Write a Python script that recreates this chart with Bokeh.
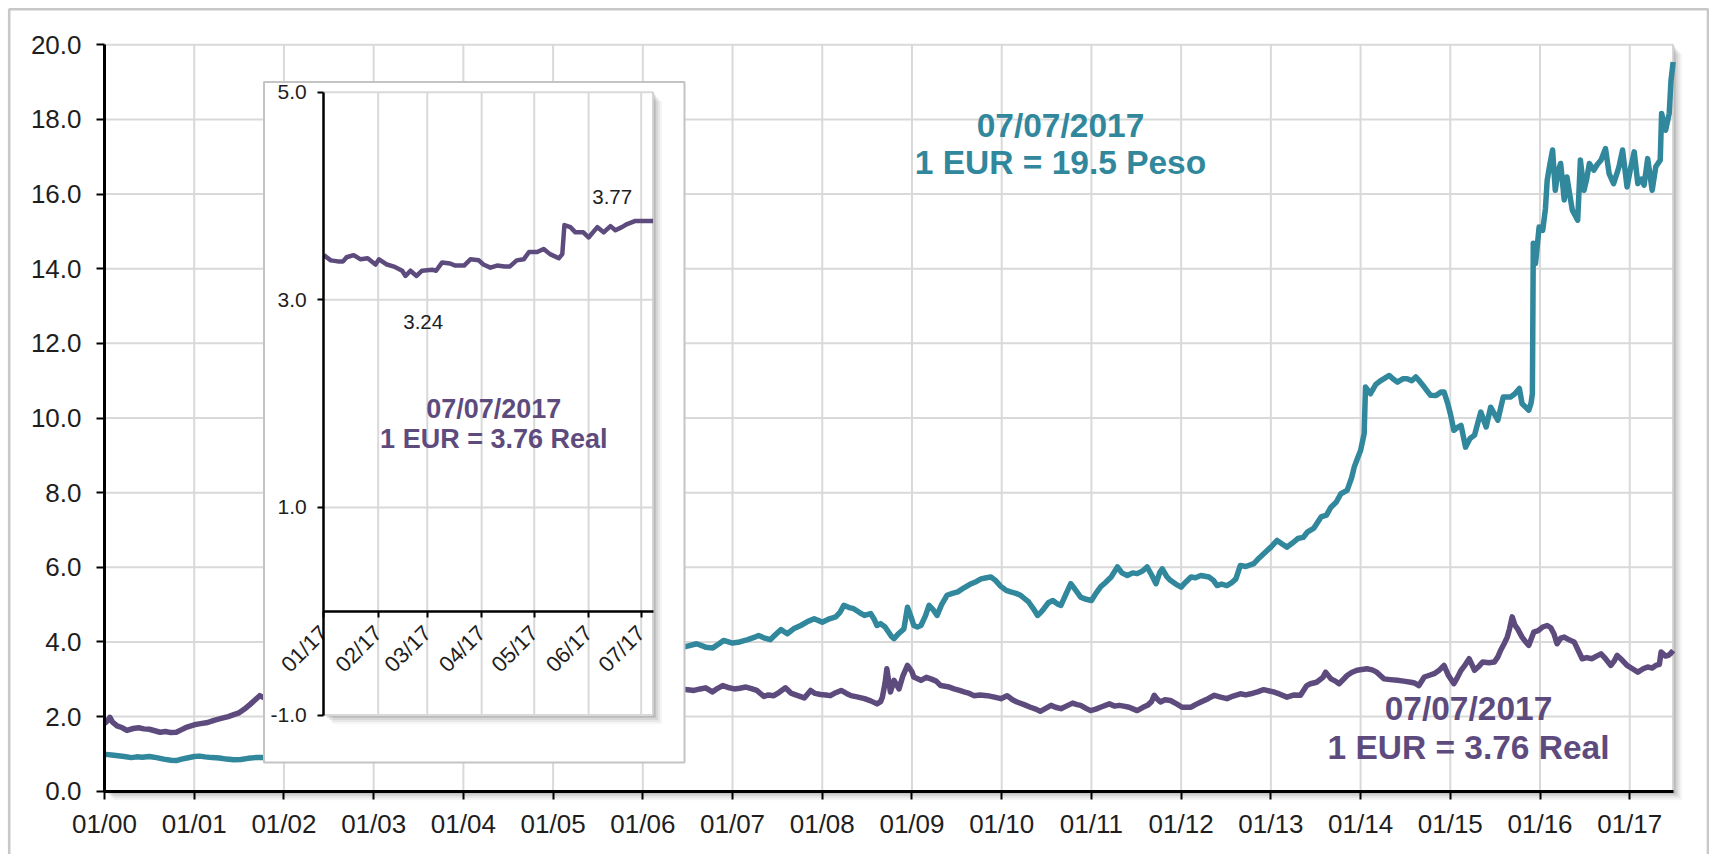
import math
from bokeh.plotting import figure
from bokeh.models import Range1d, LinearAxis, FixedTicker, NumeralTickFormatter, Label
from bokeh.embed import file_html
from bokeh.resources import INLINE

# ---------------- data ----------------
peso_t = [2000.00, 2000.04, 2000.08, 2000.15, 2000.22, 2000.30, 2000.36, 2000.42, 2000.50, 2000.58,
          2000.66, 2000.74, 2000.80, 2000.86, 2000.92, 2001.00, 2001.06, 2001.12, 2001.20, 2001.28,
          2001.36, 2001.44, 2001.52, 2001.60, 2001.68, 2001.76, 2001.84, 2001.92, 2002.00, 2002.04,
          2002.10, 2002.18, 2002.26, 2002.34, 2002.42, 2002.50, 2002.60, 2002.70, 2002.80, 2002.90,
          2003.00, 2003.15, 2003.30, 2003.45, 2003.60, 2003.75, 2003.90, 2004.05, 2004.20, 2004.35,
          2004.50, 2004.65, 2004.80, 2004.95, 2005.10, 2005.25, 2005.40, 2005.55, 2005.70, 2005.85,
          2006.00, 2006.15, 2006.30, 2006.42, 2006.52, 2006.60, 2006.70, 2006.78, 2006.85, 2006.90,
          2007.00, 2007.08, 2007.17, 2007.24, 2007.29, 2007.36, 2007.42, 2007.48, 2007.54, 2007.61,
          2007.68, 2007.76, 2007.84, 2007.91, 2008.00, 2008.08, 2008.15, 2008.20, 2008.24, 2008.30,
          2008.35, 2008.42, 2008.47, 2008.54, 2008.58, 2008.61, 2008.65, 2008.70, 2008.74, 2008.77,
          2008.80, 2008.85, 2008.91, 2008.95, 2008.99, 2009.02, 2009.06, 2009.10, 2009.15, 2009.19,
          2009.24, 2009.28, 2009.33, 2009.39, 2009.45, 2009.51, 2009.58, 2009.66, 2009.72, 2009.77,
          2009.83, 2009.88, 2009.93, 2009.99, 2010.05, 2010.10, 2010.16, 2010.21, 2010.26, 2010.30,
          2010.35, 2010.40, 2010.44, 2010.47, 2010.52, 2010.57, 2010.62, 2010.66, 2010.72, 2010.77,
          2010.82, 2010.88, 2010.93, 2011.00, 2011.05, 2011.10, 2011.16, 2011.22, 2011.29, 2011.34,
          2011.40, 2011.46, 2011.51, 2011.57, 2011.62, 2011.67, 2011.72, 2011.76, 2011.79, 2011.84,
          2011.88, 2011.94, 2012.00, 2012.05, 2012.11, 2012.16, 2012.22, 2012.31, 2012.36, 2012.40,
          2012.45, 2012.51, 2012.56, 2012.61, 2012.66, 2012.72, 2012.81, 2012.87, 2012.92, 2013.00,
          2013.07, 2013.13, 2013.18, 2013.24, 2013.30, 2013.36, 2013.41, 2013.48, 2013.56, 2013.62,
          2013.67, 2013.73, 2013.78, 2013.85, 2013.90, 2013.93, 2013.97, 2014.00, 2014.04, 2014.055,
          2014.11, 2014.17, 2014.23, 2014.32, 2014.36, 2014.41, 2014.47, 2014.52, 2014.57, 2014.615,
          2014.66, 2014.71, 2014.75, 2014.78, 2014.84, 2014.90, 2014.93, 2014.97, 2015.00, 2015.04,
          2015.08, 2015.12, 2015.17, 2015.22, 2015.27, 2015.31, 2015.34, 2015.40, 2015.45, 2015.53,
          2015.59, 2015.67, 2015.72, 2015.77, 2015.80, 2015.875, 2015.90, 2015.915, 2015.925, 2015.95,
          2015.99, 2016.03, 2016.06, 2016.08, 2016.11, 2016.14, 2016.17, 2016.20, 2016.23, 2016.27,
          2016.30, 2016.33, 2016.36, 2016.42, 2016.45, 2016.49, 2016.52, 2016.55, 2016.60, 2016.64,
          2016.68, 2016.73, 2016.77, 2016.82, 2016.85, 2016.88, 2016.92, 2016.97, 2017.01, 2017.05,
          2017.09, 2017.13, 2017.16, 2017.20, 2017.25, 2017.29, 2017.34, 2017.355, 2017.40, 2017.44,
          2017.46, 2017.484]
peso_v = [0.99, 0.98, 0.97, 0.95, 0.93, 0.90, 0.92, 0.91, 0.93, 0.90,
          0.86, 0.83, 0.82, 0.86, 0.89, 0.93, 0.94, 0.92, 0.90, 0.89,
          0.86, 0.84, 0.85, 0.88, 0.90, 0.90, 0.88, 0.89, 0.90, 1.30,
          1.80, 2.60, 3.10, 3.30, 3.60, 3.50, 3.60, 3.60, 3.50, 3.40,
          3.50, 3.30, 3.10, 3.30, 3.20, 3.40, 3.60, 3.65, 3.55, 3.50,
          3.60, 3.70, 3.80, 4.00, 3.80, 3.75, 3.60, 3.50, 3.60, 3.55,
          3.60, 3.75, 3.90, 3.84, 3.90, 3.95, 3.86, 3.84, 3.95, 4.04,
          3.97, 4.00, 4.06, 4.12, 4.17, 4.10, 4.06, 4.20, 4.33, 4.22,
          4.35, 4.44, 4.55, 4.62, 4.53, 4.62, 4.67, 4.80, 4.98, 4.92,
          4.89, 4.78, 4.71, 4.76, 4.60, 4.44, 4.49, 4.40, 4.26, 4.15,
          4.09, 4.22, 4.35, 4.93, 4.67, 4.44, 4.40, 4.44, 4.70, 4.98,
          4.85, 4.71, 5.00, 5.25, 5.30, 5.34, 5.45, 5.56, 5.62, 5.69,
          5.72, 5.74, 5.65, 5.49, 5.38, 5.34, 5.30, 5.25, 5.15, 5.07,
          4.90, 4.71, 4.80, 4.89, 5.05, 5.11, 5.02, 4.98, 5.30, 5.56,
          5.40, 5.20, 5.15, 5.11, 5.30, 5.47, 5.60, 5.74, 6.01, 5.85,
          5.78, 5.85, 5.83, 5.90, 6.01, 5.80, 5.56, 5.85, 5.96, 5.75,
          5.65, 5.55, 5.47, 5.60, 5.74, 5.72, 5.78, 5.74, 5.65, 5.51,
          5.55, 5.51, 5.58, 5.69, 6.05, 6.02, 6.10, 6.25, 6.36, 6.54,
          6.72, 6.62, 6.54, 6.65, 6.77, 6.80, 6.95, 7.05, 7.35, 7.40,
          7.61, 7.75, 7.97, 8.06, 8.40, 8.69, 8.95, 9.13, 9.58, 10.83,
          10.65, 10.90, 11.01, 11.14, 11.05, 10.96, 11.05, 11.05, 11.00, 11.10,
          10.98, 10.83, 10.70, 10.61, 10.60, 10.70, 10.70, 10.40, 10.12, 9.67,
          9.75, 9.80, 9.22, 9.45, 9.54, 9.90, 10.16, 9.76, 10.29, 9.94,
          10.56, 10.56, 10.65, 10.79, 10.38, 10.21, 10.40, 10.65, 14.68, 14.14,
          15.12, 15.03, 15.60, 16.37, 16.80, 17.18, 16.10, 16.60, 16.82, 15.84,
          16.46, 16.00, 15.57, 15.30, 16.91, 16.10, 16.40, 16.82, 16.64, 16.80,
          16.91, 17.22, 16.55, 16.28, 16.50, 16.73, 17.18, 16.19, 16.70, 17.13,
          16.28, 16.40, 16.24, 16.95, 16.10, 16.73, 16.91, 18.16, 17.71, 18.16,
          19.05, 19.54]

real_t = [2000.00, 2000.03, 2000.06, 2000.09, 2000.14, 2000.20, 2000.25, 2000.32, 2000.38, 2000.44,
          2000.50, 2000.56, 2000.62, 2000.68, 2000.74, 2000.80, 2000.86, 2000.92, 2001.00, 2001.07,
          2001.15, 2001.22, 2001.30, 2001.38, 2001.44, 2001.50, 2001.56, 2001.62, 2001.68, 2001.73,
          2001.78, 2001.85, 2001.95, 2002.05, 2002.20, 2002.35, 2002.50, 2002.65, 2002.78, 2002.90,
          2003.00, 2003.15, 2003.30, 2003.45, 2003.60, 2003.75, 2003.90, 2004.05, 2004.20, 2004.35,
          2004.50, 2004.65, 2004.80, 2004.95, 2005.10, 2005.25, 2005.40, 2005.55, 2005.70, 2005.85,
          2006.00, 2006.15, 2006.30, 2006.42, 2006.50, 2006.57, 2006.64, 2006.70, 2006.775, 2006.83,
          2006.89, 2006.95, 2007.02, 2007.08, 2007.15, 2007.21, 2007.27, 2007.35, 2007.40, 2007.46,
          2007.52, 2007.59, 2007.65, 2007.72, 2007.80, 2007.87, 2007.92, 2007.98, 2008.04, 2008.09,
          2008.15, 2008.21, 2008.27, 2008.32, 2008.40, 2008.47, 2008.54, 2008.61, 2008.65, 2008.67,
          2008.70, 2008.72, 2008.74, 2008.76, 2008.80, 2008.855, 2008.90, 2008.95, 2009.00, 2009.02,
          2009.10, 2009.16, 2009.21, 2009.27, 2009.32, 2009.40, 2009.47, 2009.53, 2009.58, 2009.64,
          2009.69, 2009.76, 2009.84, 2009.92, 2009.99, 2010.06, 2010.12, 2010.17, 2010.25, 2010.32,
          2010.38, 2010.43, 2010.49, 2010.55, 2010.60, 2010.66, 2010.72, 2010.79, 2010.84, 2010.88,
          2010.94, 2010.99, 2011.05, 2011.10, 2011.20, 2011.26, 2011.31, 2011.36, 2011.42, 2011.47,
          2011.51, 2011.57, 2011.625, 2011.67, 2011.70, 2011.73, 2011.77, 2011.82, 2011.88, 2011.95,
          2012.01, 2012.11, 2012.16, 2012.22, 2012.30, 2012.37, 2012.44, 2012.51, 2012.58, 2012.66,
          2012.72, 2012.775, 2012.85, 2012.92, 2013.03, 2013.10, 2013.18, 2013.26, 2013.33, 2013.40,
          2013.44, 2013.51, 2013.58, 2013.61, 2013.67, 2013.72, 2013.76, 2013.81, 2013.85, 2013.90,
          2013.96, 2014.07, 2014.13, 2014.18, 2014.22, 2014.26, 2014.33, 2014.41, 2014.48, 2014.56,
          2014.60, 2014.65, 2014.71, 2014.76, 2014.82, 2014.88, 2014.93, 2014.98, 2015.04, 2015.08,
          2015.12, 2015.17, 2015.21, 2015.27, 2015.32, 2015.36, 2015.43, 2015.49, 2015.53, 2015.56,
          2015.60, 2015.635, 2015.66, 2015.69, 2015.72, 2015.75, 2015.80, 2015.84, 2015.875, 2015.93,
          2015.98, 2016.03, 2016.08, 2016.12, 2016.155, 2016.19, 2016.23, 2016.27, 2016.33, 2016.38,
          2016.43, 2016.47, 2016.52, 2016.58, 2016.63, 2016.68, 2016.73, 2016.79, 2016.83, 2016.86,
          2016.92, 2016.97, 2017.03, 2017.09, 2017.15, 2017.20, 2017.25, 2017.29, 2017.33, 2017.35,
          2017.40, 2017.43, 2017.46, 2017.484]
real_v = [1.81, 1.88, 1.98, 1.85, 1.75, 1.70, 1.63, 1.68, 1.70, 1.67,
          1.66, 1.62, 1.58, 1.60, 1.57, 1.58, 1.65, 1.72, 1.78, 1.81,
          1.84, 1.90, 1.95, 2.00, 2.05, 2.10, 2.20, 2.32, 2.45, 2.56,
          2.50, 2.40, 2.15, 2.05, 2.10, 2.25, 2.80, 3.10, 3.85, 3.60,
          3.60, 3.80, 3.40, 3.30, 3.35, 3.30, 3.65, 3.80, 3.60, 3.70,
          3.75, 3.60, 3.55, 3.65, 3.40, 3.35, 3.10, 2.90, 2.75, 2.70,
          2.75, 2.65, 2.70, 2.74, 2.72, 2.70, 2.74, 2.77, 2.66, 2.75,
          2.83, 2.78, 2.74, 2.76, 2.79, 2.75, 2.70, 2.54, 2.58, 2.56,
          2.65, 2.77, 2.63, 2.57, 2.50, 2.70, 2.62, 2.59, 2.58, 2.56,
          2.64, 2.70, 2.62, 2.56, 2.52, 2.48, 2.42, 2.34, 2.40, 2.52,
          2.90, 3.28, 2.95, 2.66, 2.97, 2.74, 3.10, 3.37, 3.20, 3.06,
          2.97, 3.05, 3.01, 2.95, 2.83, 2.80, 2.74, 2.70, 2.66, 2.62,
          2.56, 2.58, 2.56, 2.52, 2.48, 2.56, 2.45, 2.39, 2.32, 2.25,
          2.20, 2.14, 2.22, 2.30, 2.25, 2.21, 2.28, 2.36, 2.32, 2.30,
          2.22, 2.16, 2.20, 2.25, 2.34, 2.28, 2.30, 2.28, 2.25, 2.20,
          2.16, 2.24, 2.30, 2.40, 2.57, 2.48, 2.39, 2.45, 2.43, 2.34,
          2.25, 2.25, 2.32, 2.39, 2.48, 2.57, 2.52, 2.48, 2.55, 2.61,
          2.58, 2.61, 2.66, 2.72, 2.66, 2.60, 2.52, 2.58, 2.57, 2.83,
          2.88, 2.92, 3.05, 3.19, 3.01, 2.95, 2.88, 3.00, 3.10, 3.18,
          3.24, 3.28, 3.25, 3.19, 3.10, 3.01, 2.99, 2.97, 2.95, 2.92,
          2.90, 2.83, 3.06, 3.10, 3.15, 3.25, 3.37, 3.10, 2.88, 3.05,
          3.24, 3.40, 3.55, 3.24, 3.35, 3.46, 3.44, 3.46, 3.60, 3.77,
          3.95, 4.13, 4.35, 4.67, 4.45, 4.35, 4.13, 4.00, 3.91, 4.26,
          4.30, 4.40, 4.44, 4.38, 4.22, 3.95, 4.10, 4.13, 4.05, 4.00,
          3.75, 3.55, 3.58, 3.55, 3.62, 3.68, 3.55, 3.37, 3.50, 3.64,
          3.50, 3.37, 3.28, 3.19, 3.28, 3.33, 3.30, 3.37, 3.40, 3.73,
          3.62, 3.64, 3.70, 3.77]

# inset: Real in 2017, x = days since 01/01/2017
inset_day = [0, 4, 8, 11, 13, 17, 21, 25, 29.5, 31.5, 36, 40, 44.7, 46.6, 49.4, 52.9, 56, 61.8,
             64, 67.5, 72, 75, 80, 83.6, 88.4, 91, 95, 98.8, 103, 106, 110, 114, 117, 121.7,
             125.4, 129, 134, 136, 137.2, 140.6, 143.5, 148, 151, 156, 159.6, 163.5, 166.3,
             170, 173, 177.7, 182.4, 187.8]
inset_v = [3.43, 3.38, 3.37, 3.37, 3.41, 3.43, 3.39, 3.40, 3.34, 3.39, 3.34, 3.32, 3.28, 3.23,
           3.28, 3.23, 3.28, 3.29, 3.28, 3.36, 3.35, 3.33, 3.33, 3.39, 3.38, 3.34, 3.31, 3.33,
           3.32, 3.32, 3.38, 3.39, 3.46, 3.46, 3.49, 3.44, 3.40, 3.44, 3.72, 3.70, 3.65, 3.65,
           3.60, 3.70, 3.65, 3.71, 3.67, 3.70, 3.73, 3.76, 3.76, 3.76]

main_ticks = list(range(2000, 2018))
main_tick_labels = ["01/00", "01/01", "01/02", "01/03", "01/04", "01/05", "01/06", "01/07", "01/08",
                    "01/09", "01/10", "01/11", "01/12", "01/13", "01/14", "01/15", "01/16", "01/17"]
main_y_ticks = [0, 2, 4, 6, 8, 10, 12, 14, 16, 18, 20]
inset_ticks = [0, 31, 59, 90, 120, 151, 181]
inset_tick_labels = ["01/17", "02/17", "03/17", "04/17", "05/17", "06/17", "07/17"]
inset_y_ticks = [-1, 1, 3, 5]

peso_note = ["07/07/2017", "1 EUR = 19.5 Peso"]
real_note = ["07/07/2017", "1 EUR = 3.76 Real"]
inset_max_label = "3.77"
inset_min_label = "3.24"

# ---------------- layout / style ----------------
TEAL = "#31879C"
PURPLE = "#5E4B7E"
GRID = "#d9d9d9"
TXT = "#1e1e1e"
FONT = "Liberation Sans"

W, H = 1709, 854
X0_PX, PPY = 104.0, 89.72      # canvas x of 2000.0, px per year
Y0_PX, PPU = 790.7, 37.32      # canvas y of value 0, px per unit
IX0_PX, PPD = 323.3, 1.7536    # inset: canvas x of day 0, px per day
IY0_PX, IPPU = 610.7, 103.8    # inset: canvas y of value 0, px per unit

X_END = peso_t[-1]
I_END = inset_day[-1]


def mx(cx):
    return 2000 + (cx - X0_PX) / PPY


def my(cy):
    return (Y0_PX - cy) / PPU


def ix(cx):
    return (cx - IX0_PX) / PPD


def iy(cy):
    return (IY0_PX - cy) / IPPU


p = figure(width=W, height=H, x_range=Range1d(mx(0), mx(W)), y_range=Range1d(my(H), my(0)),
           output_backend="svg", toolbar_location=None, min_border=0,
           x_axis_type=None, y_axis_type=None)
p.extra_x_ranges = {"ix": Range1d(ix(0), ix(W))}
p.extra_y_ranges = {"iy": Range1d(iy(H), iy(0))}
p.outline_line_color = None
p.background_fill_color = "white"
p.border_fill_color = "white"

# outer frame
p.quad(left=mx(8.7), right=mx(1707.5), top=my(8.7), bottom=my(H + 30),
       fill_color=None, line_color="#c8c8c8", line_width=2.6)

# main plot area shadow + background
SHADOW = [(9, 0.04), (7, 0.05), (5, 0.07), (3, 0.09), (1.5, 0.1)]
for off, a in SHADOW:
    p.quad(left=2000 + off / PPY, right=X_END + off / PPY, top=20 - off / PPU, bottom=0 - off / PPU,
           fill_color="black", fill_alpha=a, line_color=None)
p.quad(left=2000, right=X_END, top=20, bottom=0, fill_color="white", line_color=None)

# main grid
p.segment(x0=main_ticks[1:], y0=0, x1=main_ticks[1:], y1=20, line_color=GRID, line_width=2)
p.segment(x0=2000, y0=main_y_ticks[1:], x1=X_END, y1=main_y_ticks[1:], line_color=GRID, line_width=2)
p.segment(x0=X_END, y0=0, x1=X_END, y1=20, line_color="#cfcfcf", line_width=2)

# main series
p.line(real_t, real_v, line_color=PURPLE, line_width=5.5, line_join="round")
p.line(peso_t, peso_v, line_color=TEAL, line_width=5.5, line_join="round")

# inset box
INS = dict(x_range_name="ix", y_range_name="iy")
p.quad(left=ix(263.5), right=ix(684), top=iy(81.5), bottom=iy(762),
       fill_color="white", line_color="#c4c4c4", line_width=2, **INS)
for off, a in SHADOW:
    p.quad(left=0 + off / PPD, right=I_END + off / PPD, top=5 - off / IPPU, bottom=-1 - off / IPPU,
           fill_color="black", fill_alpha=a, line_color=None, **INS)
p.quad(left=0, right=I_END, top=5, bottom=-1, fill_color="white", line_color=None, **INS)
p.segment(x0=inset_ticks[1:], y0=-1, x1=inset_ticks[1:], y1=5, line_color=GRID, line_width=2, **INS)
p.segment(x0=0, y0=inset_y_ticks, x1=I_END, y1=inset_y_ticks, line_color=GRID, line_width=2, **INS)
p.segment(x0=I_END, y0=-1, x1=I_END, y1=5, line_color="#cfcfcf", line_width=2, **INS)
p.line(inset_day, inset_v, line_color=PURPLE, line_width=4.5, line_join="round", **INS)


def style_axis(ax, size, lw, tick_out, standoff):
    ax.axis_line_color = "black"
    ax.axis_line_width = lw
    ax.major_tick_line_color = "black"
    ax.major_tick_line_width = 2
    ax.major_tick_in = 0
    ax.major_tick_out = tick_out
    ax.minor_tick_line_color = None
    ax.major_label_text_font = FONT
    ax.major_label_text_font_size = size
    ax.major_label_text_color = TXT
    ax.major_label_standoff = standoff


yax = LinearAxis(fixed_location=2000, bounds=(0, 20), ticker=FixedTicker(ticks=main_y_ticks),
                 formatter=NumeralTickFormatter(format="0.0"))
style_axis(yax, "26px", 3, 8, 15)
p.add_layout(yax, "left")

xax = LinearAxis(fixed_location=0, bounds=(2000, X_END), ticker=FixedTicker(ticks=main_ticks),
                 major_label_overrides=dict(zip(main_ticks, main_tick_labels)))
style_axis(xax, "26px", 3, 8, 10)
p.add_layout(xax, "below")

iyax = LinearAxis(fixed_location=0, bounds=(-1, 5), ticker=FixedTicker(ticks=inset_y_ticks),
                  formatter=NumeralTickFormatter(format="0.0"), **INS)
style_axis(iyax, "21px", 2.5, 6, 11)
p.add_layout(iyax, "left")

ixax = LinearAxis(fixed_location=0, bounds=(0, I_END), ticker=FixedTicker(ticks=inset_ticks),
                  major_label_overrides=dict(zip(inset_ticks, inset_tick_labels)),
                  major_label_orientation=math.pi / 4, **INS)
style_axis(ixax, "22px", 2.5, 6, 12)
p.add_layout(ixax, "below")


def add_label(cx, cy, text, color, size, bold):
    p.add_layout(Label(x=mx(cx), y=my(cy), text=text, text_align="center", text_baseline="middle",
                       text_color=color, text_font=FONT, text_font_size=size,
                       text_font_style="bold" if bold else "normal"))


add_label(1060, 125, peso_note[0], TEAL, "33.5px", True)
add_label(1060, 161.7, peso_note[1], TEAL, "33.5px", True)
add_label(1468, 708.3, real_note[0], PURPLE, "33.5px", True)
add_label(1468, 746.7, real_note[1], PURPLE, "33.5px", True)
add_label(493.3, 408.3, real_note[0], PURPLE, "27px", True)
add_label(493.3, 438.3, real_note[1], PURPLE, "27px", True)
add_label(611.7, 196.7, inset_max_label, TXT, "20.5px", False)
add_label(422.7, 321.7, inset_min_label, TXT, "20.5px", False)

open("out.html", "w").write(file_html(p, INLINE))
